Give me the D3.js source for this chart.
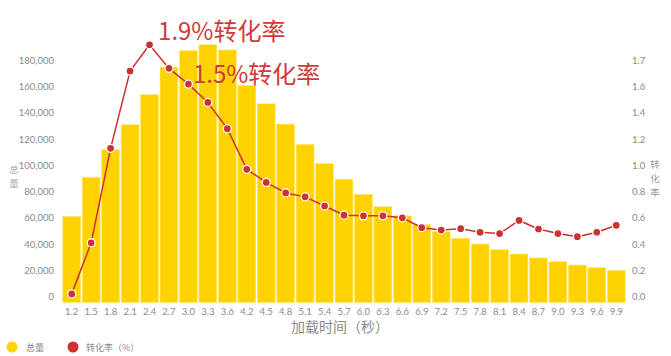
<!DOCTYPE html>
<html><head><meta charset="utf-8">
<script src="https://cdn.jsdelivr.net/npm/d3@7"></script>
<style>
html,body{margin:0;padding:0;background:#fff;}
svg{display:block;}
</style>
</head><body>
<svg id="chart" width="671" height="356"></svg>
<script>
const categories = ["1.2","1.5","1.8","2.1","2.4","2.7","3.0","3.3","3.6","4.2","4.5","4.8","5.1","5.4","5.7","6.0","6.3","6.6","6.9","7.2","7.5","7.8","8.1","8.4","8.7","9.0","9.3","9.6","9.9"];
const totals = [61000,91000,112000,131000,154000,175000,187500,192000,188000,161000,147000,131500,116000,101500,89500,78000,68500,61500,55000,49500,44500,40000,35700,32400,29400,26600,24000,22000,20000];
const rates = [0.02,0.41,1.13,1.72,1.92,1.74,1.62,1.48,1.28,0.97,0.87,0.79,0.76,0.69,0.62,0.615,0.615,0.60,0.525,0.507,0.517,0.49,0.48,0.58,0.515,0.48,0.456,0.49,0.543];
const leftTicks = [0,20000,40000,60000,80000,100000,120000,140000,160000,180000];
const rightTicks = [0,0.2,0.4,0.6,0.8,1.0,1.2,1.4,1.6,1.8];
const rightTickLabels = ["0.0","0.2","0.4","0.6","0.8","1.0","1.2","1.4","1.6","1.7"];
const annotations = [{text:"1.9%转化率", cat:"2.4"},{text:"1.5%转化率", cat:"3.0"}];
const legendItems = ["总量","转化率（%）"];

const svg = d3.select("#chart");
const left = 62, right = 626, top0 = 60.5, base = 296.5;
const yellow = "#ffd200", red = "#cf2f2f", gray = "#8a8a8a";
const font = "'Liberation Sans Narrow', Lato, 'Noto Sans', sans-serif";
const cjk = "'Noto Sans CJK SC', sans-serif";

const x = d3.scaleBand().domain(categories).range([left, right]).paddingInner(0.08).paddingOuter(0.04);
const y = d3.scaleLinear().domain([0,180000]).range([base, top0]);
const y2 = d3.scaleLinear().domain([0,1.8]).range([base, top0]);

// bars
svg.append("g").selectAll("rect").data(totals).join("rect")
  .attr("x", (d,i)=>x(categories[i]))
  .attr("width", x.bandwidth())
  .attr("y", d=>y(d))
  .attr("height", d=>y(0)+6 - y(d))
  .attr("fill", yellow)
  .attr("stroke", "#ffe97a").attr("stroke-width", 0.6);

// left axis
const ax = d3.axisLeft(y).tickValues(leftTicks).tickFormat(d3.format(",")).tickSize(0).tickPadding(0);
const gL = svg.append("g").attr("transform", "translate(54,0)").call(ax);
gL.select(".domain").remove();
gL.selectAll("text").attr("fill", gray).style("font-family", font).style("font-size", "9.5px");

// right axis
const ax2 = d3.axisRight(y2).tickValues(rightTicks).tickFormat((d,i)=>rightTickLabels[i]).tickSize(0).tickPadding(0);
const gR = svg.append("g").attr("transform", "translate(632,0)").call(ax2);
gR.select(".domain").remove();
gR.selectAll("text").attr("fill", gray).style("font-family", font).style("font-size", "9.5px");

// x axis
const axX = d3.axisBottom(x).tickSize(0).tickPadding(0);
const gX = svg.append("g").attr("transform", "translate(0,308)").call(axX);
gX.select(".domain").remove();
gX.selectAll("text").attr("fill", gray).style("font-family", font).style("font-size", "9.5px");

// axis titles
svg.append("text").attr("x", 340).attr("y", 332).attr("text-anchor","middle")
  .attr("fill", gray).style("font-family", cjk).style("font-size","14px").text("加载时间（秒）");
["总","量"].forEach((c,i)=>svg.append("text").attr("x",14).attr("y",173+i*14)
  .attr("fill","#aaa").style("font-family", cjk).style("font-size","9.5px").attr("text-anchor","middle").text(c));
["转","化","率"].forEach((c,i)=>svg.append("text").attr("x",655).attr("y",168+i*14)
  .attr("fill","#999").style("font-family", cjk).style("font-size","9.5px").attr("text-anchor","middle").text(c));

// line
const line = d3.line().x((d,i)=>x(categories[i])+x.bandwidth()/2).y(d=>y2(d));
svg.append("path").datum(rates).attr("d", line).attr("fill","none").attr("stroke", red).attr("stroke-width",1.5);
svg.append("g").selectAll("circle").data(rates).join("circle")
  .attr("cx",(d,i)=>x(categories[i])+x.bandwidth()/2).attr("cy", d=>y2(d)).attr("r",4)
  .attr("fill", red).attr("stroke","#fff").attr("stroke-width",1.3);

// annotations
const annPos = [{dx:17.5, y:40},{dx:13.5, y:83}];
annotations.forEach((a,i)=>{
  svg.append("text").attr("x", x(a.cat)+annPos[i].dx).attr("y", annPos[i].y)
    .attr("fill", "#d03a3a").style("font-family", cjk).style("font-size","24px").text(a.text);
});

// legend
svg.append("circle").attr("cx",12).attr("cy",347).attr("r",5.5).attr("fill",yellow);
svg.append("text").attr("x",26).attr("y",350.5).attr("fill",gray).style("font-family",cjk).style("font-size","9px").text(legendItems[0]);
svg.append("circle").attr("cx",73).attr("cy",347).attr("r",5.5).attr("fill",red);
svg.append("text").attr("x",86).attr("y",350.5).attr("fill",gray).style("font-family",cjk).style("font-size","9px").text(legendItems[1]);
</script>
</body></html>
